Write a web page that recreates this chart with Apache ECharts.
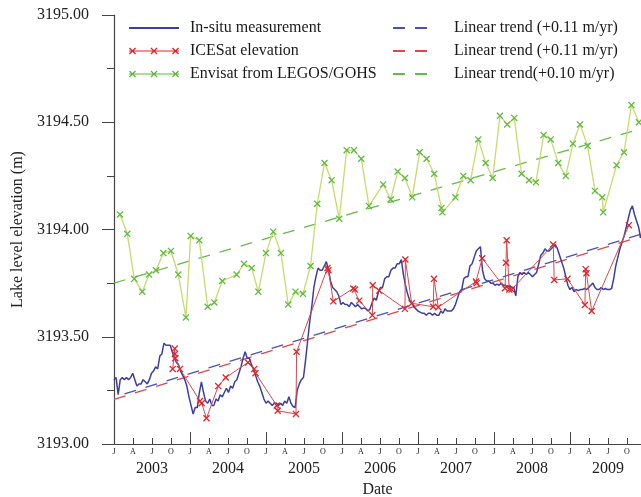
<!DOCTYPE html>
<html>
<head>
<meta charset="utf-8">
<script src="https://cdn.jsdelivr.net/npm/echarts@6/dist/echarts.min.js"></script>
<style>
  html, body { margin: 0; padding: 0; background: #fff; }
  #chart { width: 641px; height: 497px; }
</style>
</head>
<body>
<div id="chart"></div>
<script>
// Envisat (LEGOS/GOHS) altimetry, time in decimal years
const envisatTime = [
  2003.079, 2003.175, 2003.267, 2003.372, 2003.461, 2003.553, 2003.649, 2003.750, 2003.846, 2003.947,
  2004.009, 2004.122, 2004.233, 2004.320, 2004.425, 2004.614, 2004.711, 2004.812, 2004.899, 2005.000,
  2005.096, 2005.197, 2005.293, 2005.388, 2005.487, 2005.586, 2005.675, 2005.770, 2005.864, 2005.964,
  2006.062, 2006.158, 2006.254, 2006.355, 2006.543, 2006.641, 2006.733, 2006.829, 2006.925, 2007.022,
  2007.114, 2007.214, 2007.309, 2007.322, 2007.493, 2007.596, 2007.693, 2007.793, 2007.891, 2007.983,
  2008.079, 2008.175, 2008.267, 2008.364, 2008.461, 2008.553, 2008.654, 2008.747, 2008.846, 2008.945,
  2009.039, 2009.132, 2009.233, 2009.329, 2009.425, 2009.438, 2009.614, 2009.711, 2009.809, 2009.908
];
const envisatLevel = [
  3194.07, 3193.98, 3193.77, 3193.71, 3193.79, 3193.81, 3193.89, 3193.90, 3193.79, 3193.59,
  3193.97, 3193.95, 3193.64, 3193.66, 3193.76, 3193.79, 3193.84, 3193.82, 3193.71, 3193.89,
  3193.99, 3193.89, 3193.65, 3193.71, 3193.70, 3193.83, 3194.12, 3194.31, 3194.23, 3194.05,
  3194.37, 3194.37, 3194.33, 3194.11, 3194.21, 3194.14, 3194.27, 3194.24, 3194.15, 3194.36,
  3194.33, 3194.26, 3194.10, 3194.08, 3194.15, 3194.25, 3194.23, 3194.42, 3194.31, 3194.24,
  3194.53, 3194.49, 3194.52, 3194.26, 3194.23, 3194.22, 3194.44, 3194.42, 3194.31, 3194.25,
  3194.40, 3194.49, 3194.39, 3194.18, 3194.15, 3194.08, 3194.30, 3194.36, 3194.58, 3194.50
];

// ICESat footprints
const icesatTime = [
  2003.772, 2003.800, 2003.803, 2003.807, 2003.868, 2004.132, 2004.154, 2004.217, 2004.372, 2004.470,
  2004.763, 2004.846, 2004.862, 2005.141, 2005.154, 2005.395, 2005.403, 2005.809, 2005.822, 2005.886,
  2006.149, 2006.171, 2006.228, 2006.400, 2006.405, 2006.491, 2006.829, 2006.834, 2006.917, 2007.201,
  2007.211, 2007.268, 2007.763, 2007.772, 2007.846, 2008.145, 2008.158, 2008.167, 2008.201, 2008.233,
  2008.780, 2008.793, 2008.967, 2009.197, 2009.207, 2009.217, 2009.286, 2009.776
];
const icesatLevel = [
  3193.35, 3193.445, 3193.42, 3193.40, 3193.35, 3193.20, 3193.19, 3193.12, 3193.27, 3193.31,
  3193.38, 3193.35, 3193.33, 3193.18, 3193.155, 3193.14, 3193.43, 3193.82, 3193.81, 3193.665,
  3193.725, 3193.72, 3193.668, 3193.60, 3193.74, 3193.715, 3193.63, 3193.86, 3193.656, 3193.64,
  3193.77, 3193.638, 3193.757, 3193.75, 3193.866, 3193.726, 3193.845, 3193.95, 3193.72, 3193.72,
  3193.93, 3193.765, 3193.77, 3193.648, 3193.815, 3193.796, 3193.62, 3194.02
];

// in-situ gauge, one value every 10 days from 1 Jan 2003
const insituStart = 2003.0;
const insituStepDays = 10;
const insituLevel = [
  3193.30, 3193.31, 3193.23, 3193.30, 3193.31, 3193.30, 3193.31, 3193.30, 3193.31, 3193.33,
  3193.30, 3193.27, 3193.28, 3193.28, 3193.30, 3193.29, 3193.28, 3193.30, 3193.33, 3193.34,
  3193.36, 3193.35, 3193.41, 3193.42, 3193.47, 3193.46, 3193.46, 3193.46, 3193.43, 3193.40,
  3193.38, 3193.37, 3193.34, 3193.32, 3193.30, 3193.27, 3193.22, 3193.18, 3193.14, 3193.17,
  3193.17, 3193.24, 3193.29, 3193.24, 3193.20, 3193.19, 3193.21, 3193.18, 3193.18, 3193.21,
  3193.20, 3193.23, 3193.22, 3193.24, 3193.26, 3193.24, 3193.27, 3193.26, 3193.29, 3193.30,
  3193.33, 3193.36, 3193.40, 3193.43, 3193.40, 3193.40, 3193.37, 3193.35, 3193.32, 3193.29,
  3193.27, 3193.24, 3193.21, 3193.19, 3193.20, 3193.19, 3193.18, 3193.19, 3193.19, 3193.18,
  3193.19, 3193.18, 3193.20, 3193.19, 3193.22, 3193.19, 3193.175, 3193.17, 3193.25, 3193.28,
  3193.30, 3193.31, 3193.39, 3193.48, 3193.57, 3193.64, 3193.73, 3193.78, 3193.82, 3193.81,
  3193.81, 3193.83, 3193.85, 3193.81, 3193.76, 3193.73, 3193.72, 3193.71, 3193.69, 3193.65,
  3193.66, 3193.65, 3193.65, 3193.64, 3193.66, 3193.65, 3193.64, 3193.65, 3193.64, 3193.63,
  3193.635, 3193.63, 3193.62, 3193.63, 3193.66, 3193.68, 3193.67, 3193.71, 3193.73, 3193.73,
  3193.77, 3193.78, 3193.78, 3193.81, 3193.82, 3193.82, 3193.84, 3193.84, 3193.86, 3193.79,
  3193.74, 3193.70, 3193.67, 3193.66, 3193.64, 3193.63, 3193.62, 3193.615, 3193.61, 3193.61,
  3193.60, 3193.61, 3193.61, 3193.60, 3193.61, 3193.60, 3193.60, 3193.62, 3193.61, 3193.63,
  3193.62, 3193.62, 3193.62, 3193.63, 3193.65, 3193.68, 3193.71, 3193.72, 3193.77, 3193.78,
  3193.78, 3193.83, 3193.84, 3193.87, 3193.90, 3193.91, 3193.92, 3193.81, 3193.77, 3193.76,
  3193.76, 3193.75, 3193.75, 3193.74, 3193.745, 3193.74, 3193.75, 3193.74, 3193.74, 3193.73,
  3193.74, 3193.73, 3193.73, 3193.69, 3193.78, 3193.80, 3193.79, 3193.80, 3193.79, 3193.80,
  3193.79, 3193.78, 3193.79, 3193.80, 3193.84, 3193.88, 3193.89, 3193.91, 3193.90, 3193.90,
  3193.91, 3193.92, 3193.93, 3193.91, 3193.88, 3193.85, 3193.82, 3193.78, 3193.74, 3193.72,
  3193.73, 3193.71, 3193.72, 3193.715, 3193.72, 3193.72, 3193.725, 3193.72, 3193.73, 3193.74,
  3193.75, 3193.73, 3193.72, 3193.72, 3193.73, 3193.72, 3193.725, 3193.72, 3193.72, 3193.725,
  3193.77, 3193.83, 3193.87, 3193.91, 3193.94, 3193.97, 3194.01, 3194.05, 3194.09, 3194.11,
  3194.07, 3194.04, 3194.01, 3193.96
];

// linear trends, end points over the plotted span
const trendTime = [2003.0, 2009.935];
const insituTrend = [3193.218, 3193.978];
const icesatTrend = [3193.208, 3193.968];
const envisatTrend = [3193.75, 3194.47];

const quarterLetters = ['J', 'A', 'J', 'O'];
const yearLabels = ['2003', '2004', '2005', '2006', '2007', '2008', '2009'];

const legendText = {
  insitu: 'In-situ measurement',
  icesat: 'ICESat elevation',
  envisat: 'Envisat from LEGOS/GOHS',
  trendInsitu: 'Linear trend (+0.11 m/yr)',
  trendIcesat: 'Linear trend (+0.11 m/yr)',
  trendEnvisat: 'Linear trend(+0.10 m/yr)'
};

const serif = 'Liberation Serif';
const axisColor = '#444';

// "x" marker made of two filled diagonal bars
function crossPath(cx, cy, h, w) {
  const a = `M${cx - h + w},${cy - h}L${cx + h},${cy + h - w}L${cx + h - w},${cy + h}L${cx - h},${cy - h + w}Z`;
  const b = `M${cx + h - w},${cy - h}L${cx + h},${cy - h + w}L${cx - h + w},${cy + h}L${cx - h},${cy + h - w}Z`;
  return a + b;
}
const markerX = 'path://' + crossPath(0, 0, 5, 1.3);
// legend sample: line with three crosses
const legendX = 'path://M0,3L50,3L50,4L0,4Z' + crossPath(3.5, 3.5, 3.5, 0.9) + crossPath(25, 3.5, 3.5, 0.9) + crossPath(46.5, 3.5, 3.5, 0.9);

const pairs = (xs, ys) => xs.map((x, i) => [x, ys[i]]);
const insituTime = insituLevel.map((_, i) => insituStart + i * insituStepDays / 365);

const xMin = 2003.0;
const xMax = 2009.935;

function quarterLabel(v) {
  const q = v * 4;
  if (Math.abs(q - Math.round(q)) > 0.01) return '';
  return quarterLetters[((Math.round(q) % 4) + 4) % 4];
}
function yearLabel(v) {
  const f = v - Math.floor(v);
  if (Math.abs(f - 0.5) > 0.01) return '';
  const idx = Math.floor(v) - 2003;
  return yearLabels[idx] || '';
}

const chart = echarts.init(document.getElementById('chart'), null, { renderer: 'canvas' });

const trendLine = (color, offset) => ({ color: color, width: 1.3, type: [12, 10], dashOffset: offset || 0 });
const noDot = { opacity: 0 };
const plainDash = { type: [12, 10], dashOffset: 0 };

const option = {
  animation: false,
  backgroundColor: '#fff',
  grid: { left: 114, right: 0, top: 15, bottom: 53, outerBoundsMode: 'none' },
  legend: [
    {
      left: 123, top: 15, orient: 'vertical',
      itemWidth: 50, itemHeight: 7, itemGap: 7,
      textStyle: { fontFamily: serif, fontSize: 16, color: '#1a1a1a', padding: [0, 0, 0, 6] },
      formatter: (n) => legendText[n],
      data: [
        { name: 'insitu', itemStyle: noDot },
        { name: 'icesat', icon: legendX },
        { name: 'envisat', icon: legendX }
      ]
    },
    {
      left: 387, top: 15, orient: 'vertical',
      itemWidth: 36, itemHeight: 7, itemGap: 7,
      textStyle: { fontFamily: serif, fontSize: 16, color: '#1a1a1a', padding: [0, 0, 0, 20] },
      formatter: (n) => legendText[n],
      data: [
        { name: 'trendInsitu', itemStyle: noDot, lineStyle: plainDash },
        { name: 'trendIcesat', itemStyle: noDot, lineStyle: plainDash },
        { name: 'trendEnvisat', itemStyle: noDot, lineStyle: plainDash }
      ]
    }
  ],
  xAxis: [
    {
      type: 'value', position: 'bottom', min: xMin, max: xMax, interval: 0.25,
      axisLine: { show: true, onZero: false, lineStyle: { color: axisColor, width: 1.2 } },
      axisTick: { show: true, inside: true, length: 6, lineStyle: { color: axisColor } },
      axisLabel: { margin: 4, fontFamily: serif, fontSize: 8, color: '#222', formatter: quarterLabel },
      splitLine: { show: false }
    },
    {
      type: 'value', position: 'bottom', min: xMin, max: xMax, interval: 1,
      axisLine: { show: false },
      axisTick: { show: true, inside: true, length: 12, lineStyle: { color: axisColor } },
      axisLabel: { show: false },
      splitLine: { show: false }
    },
    {
      type: 'value', position: 'bottom', min: xMin, max: xMax, interval: 0.5,
      axisLine: { show: false },
      axisTick: { show: false },
      axisLabel: { margin: 17, fontFamily: serif, fontSize: 16, color: '#222', formatter: yearLabel },
      splitLine: { show: false },
      name: 'Date', nameLocation: 'middle', nameGap: 36,
      nameTextStyle: { fontFamily: serif, fontSize: 16, color: '#222' }
    }
  ],
  yAxis: {
    type: 'value', min: 3193, max: 3195, interval: 0.5,
    axisLine: { show: true, lineStyle: { color: axisColor, width: 1.2 } },
    axisTick: { show: true, length: 12, lineStyle: { color: axisColor } },
    minorTick: { show: true, splitNumber: 2, length: 7, lineStyle: { color: axisColor } },
    axisLabel: { margin: 25, fontFamily: serif, fontSize: 16, color: '#222', formatter: (v) => v.toFixed(2) },
    splitLine: { show: false },
    name: 'Lake level elevation (m)', nameLocation: 'middle', nameGap: 82,
    nameTextStyle: { fontFamily: serif, fontSize: 16, color: '#222' }
  },
  series: [
    {
      name: 'trendInsitu', type: 'line', symbol: 'none', z: 1,
      data: pairs(trendTime, insituTrend),
      itemStyle: { color: '#4652b8' }, lineStyle: trendLine('#4652b8', 11)
    },
    {
      name: 'trendIcesat', type: 'line', symbol: 'none', z: 1,
      data: pairs(trendTime, icesatTrend),
      itemStyle: { color: '#e04848' }, lineStyle: trendLine('#e04848')
    },
    {
      name: 'trendEnvisat', type: 'line', symbol: 'none', z: 1,
      data: pairs(trendTime, envisatTrend),
      itemStyle: { color: '#62bd45' }, lineStyle: trendLine('#62bd45')
    },
    {
      name: 'insitu', type: 'line', symbol: 'none', z: 2,
      data: pairs(insituTime, insituLevel),
      itemStyle: { color: '#3b40a0' },
      lineStyle: { color: '#3b40a0', width: 1.5 }
    },
    {
      name: 'icesat', type: 'line', z: 3,
      symbol: markerX, symbolSize: 7,
      data: pairs(icesatTime, icesatLevel),
      itemStyle: { color: '#e3242b', borderWidth: 0 },
      lineStyle: { color: '#d8494d', width: 1 }
    },
    {
      name: 'envisat', type: 'line', z: 4,
      symbol: markerX, symbolSize: 7,
      data: pairs(envisatTime, envisatLevel),
      itemStyle: { color: '#5cbb3e', borderWidth: 0 },
      lineStyle: { color: '#c9d96c', width: 1.3 }
    }
  ]
};

chart.setOption(option);
</script>
</body>
</html>
